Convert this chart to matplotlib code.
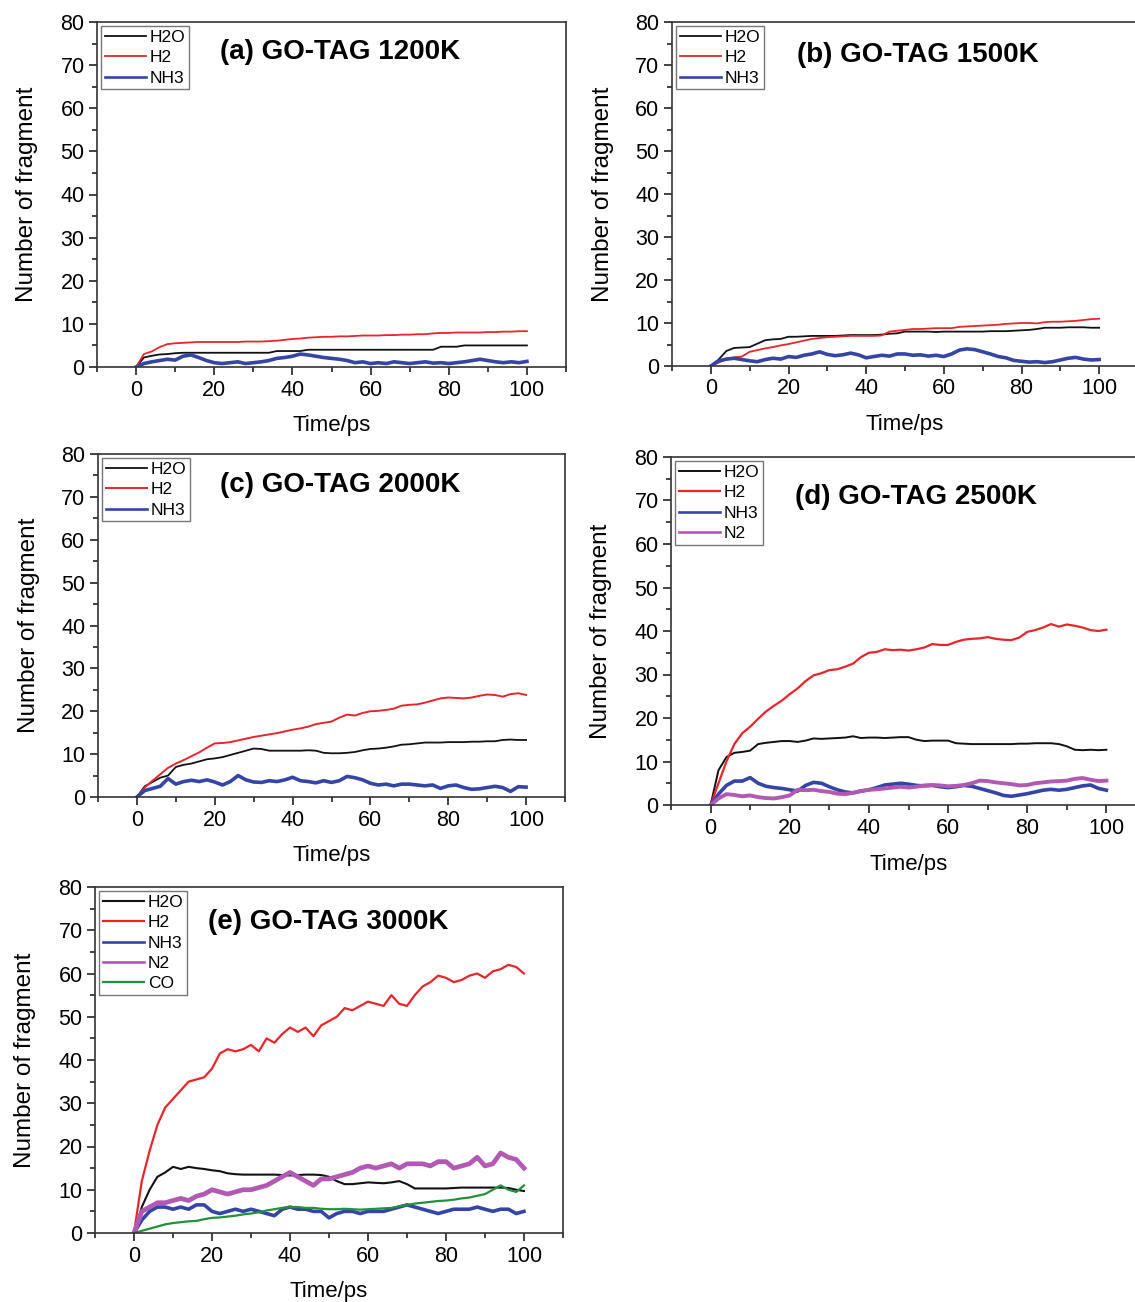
import numpy as np
import matplotlib
matplotlib.use('Agg')
import matplotlib.pyplot as plt
from matplotlib.ticker import MultipleLocator

plt.rcParams['font.family'] = ['Liberation Sans', 'DejaVu Sans']

# time grid (ps), every 2 ps
t = np.arange(0, 101, 2)

# (a) 1200K
a_h2o = [0, 2.2, 2.6, 2.9, 3.0, 3.2, 3.3, 3.3, 3.3, 3.3, 3.3, 3.3, 3.3, 3.3, 3.3, 3.3, 3.3,
         3.3, 3.7, 3.7, 3.7, 3.7, 4.0, 4.0, 4.0, 4.0, 4.0, 4.0, 4.0, 4.0, 4.0, 4.0, 4.0, 4.0,
         4.0, 4.0, 4.0, 4.0, 4.0, 4.7, 4.7, 4.7, 5.0, 5.0, 5.0, 5.0, 5.0, 5.0, 5.0, 5.0, 5.0]
a_h2 = [0, 3.0, 3.6, 4.6, 5.3, 5.5, 5.6, 5.7, 5.8, 5.8, 5.8, 5.8, 5.8, 5.8, 5.9, 5.9, 5.9,
        6.0, 6.1, 6.3, 6.5, 6.6, 6.8, 6.9, 7.0, 7.0, 7.1, 7.1, 7.2, 7.3, 7.3, 7.3, 7.4, 7.4,
        7.5, 7.5, 7.6, 7.6, 7.8, 7.9, 7.9, 8.0, 8.0, 8.0, 8.0, 8.1, 8.1, 8.2, 8.2, 8.3, 8.3]
a_nh3 = [0, 0.8, 1.2, 1.5, 1.8, 1.6, 2.5, 2.8, 2.2, 1.5, 1.0, 0.8, 1.0, 1.2, 0.8, 1.0, 1.2,
         1.5, 2.0, 2.2, 2.5, 3.0, 2.8, 2.5, 2.2, 2.0, 1.8, 1.5, 1.0, 1.2, 0.8, 1.0, 0.8, 1.2,
         1.0, 0.8, 1.0, 1.2, 0.9, 1.0, 0.8, 1.0, 1.2, 1.5, 1.8, 1.5, 1.2, 1.0, 1.2, 1.0, 1.3]

# (b) 1500K
b_h2o = [0, 1.5, 3.5, 4.2, 4.3, 4.4, 5.2, 6.0, 6.2, 6.3, 6.8, 6.8, 6.9, 7.0, 7.0, 7.0, 7.0,
         7.1, 7.2, 7.2, 7.2, 7.2, 7.3, 7.5, 7.6, 8.0, 8.0, 8.0, 8.0, 7.9, 8.0, 8.0, 8.0, 8.0,
         8.0, 8.0, 8.1, 8.1, 8.1, 8.2, 8.3, 8.4, 8.6, 8.9, 8.9, 8.9, 9.0, 9.0, 9.0, 8.9, 8.9]
b_h2 = [0, 0.8, 1.6, 2.0, 2.2, 3.3, 3.7, 4.1, 4.4, 4.8, 5.1, 5.5, 5.9, 6.3, 6.5, 6.7, 6.8,
        6.9, 7.0, 7.0, 7.0, 7.0, 7.1, 8.0, 8.2, 8.4, 8.6, 8.6, 8.7, 8.8, 8.8, 8.8, 9.1, 9.2,
        9.3, 9.4, 9.5, 9.6, 9.8, 9.9, 10.0, 10.0, 9.9, 10.2, 10.3, 10.3, 10.4, 10.5, 10.7, 10.9, 11.0]
b_nh3 = [0, 1.2, 1.6, 1.8, 1.5, 1.2, 1.0, 1.5, 1.8, 1.6, 2.2, 2.0, 2.5, 2.8, 3.3, 2.7, 2.4,
         2.6, 3.0, 2.6, 1.9, 2.2, 2.5, 2.3, 2.8, 2.8, 2.5, 2.6, 2.3, 2.5, 2.2, 2.8, 3.7, 4.0,
         3.8, 3.3, 2.8, 2.2, 1.9, 1.3, 1.1, 0.9, 1.0, 0.8, 1.0, 1.4, 1.8, 2.0, 1.6, 1.4, 1.5]

# (c) 2000K
c_h2o = [0, 2.5, 3.5, 4.5, 5.0, 7.0, 7.5, 7.8, 8.3, 8.8, 9.0, 9.3, 9.8, 10.3, 10.8, 11.3, 11.2,
         10.8, 10.8, 10.8, 10.8, 10.8, 10.9, 10.8, 10.3, 10.2, 10.2, 10.3, 10.5, 10.9, 11.2, 11.3,
         11.5, 11.8, 12.2, 12.3, 12.5, 12.7, 12.7, 12.7, 12.8, 12.8, 12.8, 12.9, 12.9, 13.0, 13.0,
         13.3, 13.4, 13.3, 13.3]
c_h2 = [0, 2.2, 3.8, 5.3, 6.8, 7.8, 8.6, 9.5, 10.4, 11.5, 12.5, 12.6, 12.8, 13.2, 13.6, 14.0,
        14.3, 14.6, 14.9, 15.3, 15.7, 16.0, 16.4, 17.0, 17.3, 17.6, 18.5, 19.2, 19.0, 19.6, 20.0,
        20.1, 20.3, 20.6, 21.3, 21.5, 21.6, 22.0, 22.5, 23.0, 23.2, 23.1, 23.0, 23.2, 23.6, 23.9,
        23.8, 23.4, 24.0, 24.2, 23.8]
c_nh3 = [0, 1.5, 2.0, 2.5, 4.3, 3.0, 3.6, 3.9, 3.6, 4.0, 3.5, 2.8, 3.6, 5.0, 4.0, 3.5, 3.4,
         3.8, 3.6, 4.0, 4.6, 3.8, 3.6, 3.3, 3.8, 3.4, 3.8, 4.8, 4.5, 4.0, 3.2, 2.8, 3.0, 2.6,
         3.0, 3.0, 2.8, 2.6, 2.8, 2.0, 2.6, 2.8, 2.2, 1.8, 1.9, 2.2, 2.5, 2.2, 1.3, 2.4, 2.3]

# (d) 2500K
d_h2o = [0, 8.0, 11.0, 12.0, 12.2, 12.5, 14.0, 14.3, 14.5, 14.7, 14.7, 14.5, 14.8, 15.3, 15.2,
         15.3, 15.4, 15.5, 15.8, 15.4, 15.5, 15.5, 15.4, 15.5, 15.6, 15.6, 15.0, 14.7, 14.8, 14.8,
         14.8, 14.2, 14.1, 14.0, 14.0, 14.0, 14.0, 14.0, 14.0, 14.1, 14.1, 14.2, 14.2, 14.2, 14.0,
         13.5, 12.7, 12.6, 12.7, 12.6, 12.7]
d_h2 = [0, 5.0, 10.0, 14.0, 16.5, 18.0, 19.8, 21.5, 22.8, 24.0, 25.5, 26.8, 28.5, 29.8, 30.3,
        31.0, 31.2, 31.8, 32.5, 34.0, 35.0, 35.2, 35.8, 35.6, 35.7, 35.5, 35.8, 36.2, 37.0, 36.8,
        36.8, 37.5, 38.0, 38.2, 38.3, 38.6, 38.2, 38.0, 37.9, 38.5, 39.8, 40.2, 40.8, 41.6, 41.0,
        41.5, 41.2, 40.8, 40.2, 40.0, 40.3]
d_nh3 = [0, 2.5, 4.5, 5.5, 5.5, 6.3, 5.0, 4.3, 4.0, 3.8, 3.5, 3.2, 4.5, 5.2, 5.0, 4.2, 3.5,
         3.0, 2.8, 3.2, 3.5, 4.0, 4.6, 4.8, 5.0, 4.8, 4.5, 4.4, 4.5, 4.2, 4.0, 4.2, 4.5, 4.3,
         3.8, 3.3, 2.8, 2.2, 2.0, 2.3, 2.6, 3.0, 3.4, 3.6, 3.4, 3.6, 4.0, 4.4, 4.6, 3.8, 3.4]
d_n2 = [0, 1.5, 2.5, 2.3, 2.0, 2.2, 1.8, 1.6, 1.5, 1.8, 2.2, 3.5, 3.4, 3.5, 3.2, 3.0, 2.6,
        2.5, 2.8, 3.2, 3.5, 3.6, 3.8, 4.0, 4.2, 4.0, 4.2, 4.5, 4.6, 4.5, 4.3, 4.4, 4.6, 5.0,
        5.6, 5.5, 5.2, 5.0, 4.8, 4.5, 4.6, 5.0, 5.2, 5.4, 5.5, 5.6, 6.0, 6.2, 5.8, 5.5, 5.6]

# (e) 3000K
e_h2o = [0, 6, 10, 13, 14, 15.3, 14.8, 15.3, 15.0, 14.8, 14.5, 14.3, 13.8, 13.6, 13.5, 13.5,
         13.5, 13.5, 13.5, 13.4, 13.3, 13.4, 13.5, 13.5, 13.4, 13.0, 12.0, 11.3, 11.3, 11.5, 11.7,
         11.6, 11.5, 11.7, 12.0, 11.3, 10.3, 10.3, 10.3, 10.3, 10.3, 10.4, 10.5, 10.5, 10.5, 10.5,
         10.5, 10.5, 10.4, 10.0, 9.7]
e_h2 = [0, 12, 19, 25, 29, 31, 33, 35, 35.5, 36, 38, 41.5, 42.5, 42, 42.5, 43.5, 42, 45, 44,
        46, 47.5, 46.5, 47.5, 45.5, 48, 49, 50, 52, 51.5, 52.5, 53.5, 53, 52.5, 55, 53, 52.5,
        55, 57, 58, 59.5, 59, 58, 58.5, 59.5, 60, 59, 60.5, 61, 62, 61.5, 60]
e_nh3 = [0, 3, 5, 6, 6, 5.5, 6, 5.5, 6.5, 6.5, 5, 4.5, 5, 5.5, 5, 5.5, 5, 4.5, 4, 5.5, 6,
         5.5, 5.5, 5, 5, 3.5, 4.5, 5, 5, 4.5, 5, 5, 5, 5.5, 6, 6.5, 6, 5.5, 5, 4.5, 5, 5.5,
         5.5, 5.5, 6, 5.5, 5, 5.5, 5.5, 4.5, 5]
e_n2 = [0, 5, 6, 7, 7, 7.5, 8, 7.5, 8.5, 9, 10, 9.5, 9, 9.5, 10, 10, 10.5, 11, 12, 13, 14,
        13, 12, 11, 12.5, 12.5, 13, 13.5, 14, 15, 15.5, 15, 15.5, 16, 15, 16, 16, 16, 15.5,
        16.5, 16.5, 15, 15.5, 16, 17.5, 15.5, 16, 18.5, 17.5, 17, 15]
e_co = [0, 0.5, 1, 1.5, 2, 2.3, 2.5, 2.7, 2.8, 3.2, 3.5, 3.6, 3.8, 4.0, 4.3, 4.5, 4.8, 5.2,
        5.5, 5.8, 6, 6, 5.8, 5.8, 5.6, 5.5, 5.5, 5.6, 5.5, 5.4, 5.5, 5.6, 5.7, 5.8, 6.2, 6.5,
        6.8, 7.0, 7.2, 7.4, 7.5, 7.7, 8.0, 8.2, 8.6, 9.0, 10, 11, 10, 9.5, 11]

BLACK = '#111111'
RED = '#e8252a'
BLUE = '#3445a6'
MAGENTA = '#b259b4'
GREEN = '#23913a'

W, H = 1135, 1302
fig = plt.figure(figsize=(W / 100, H / 100), dpi=100)


def px_axes(x0, x1, ytop, ybot):
    # axes rectangle given in picture pixels
    return fig.add_axes([x0 / W, (H - ybot) / H, (x1 - x0) / W, (ybot - ytop) / H])


def style(ax, title, tx, ty):
    ax.set_xlim(-10, 110)
    ax.set_ylim(0, 80)
    ax.xaxis.set_major_locator(MultipleLocator(20))
    ax.xaxis.set_minor_locator(MultipleLocator(10))
    ax.yaxis.set_major_locator(MultipleLocator(10))
    ax.yaxis.set_minor_locator(MultipleLocator(5))
    ax.tick_params(which='both', direction='out', top=False, right=False,
                   labelsize=15.5, width=1.2, color='#222222')
    ax.tick_params(which='major', length=6, pad=3)
    ax.tick_params(which='minor', length=3.5)
    for sp in ax.spines.values():
        sp.set_linewidth(1.2)
        sp.set_color('#333333')
    ax.set_xlabel('Time/ps', fontsize=16)
    ax.set_ylabel('Number of fragment', fontsize=17.5)
    ax.yaxis.set_label_coords(-0.125, 0.5)
    ax.xaxis.set_label_coords(0.5, -0.14)
    ax.text(tx, ty, title, transform=ax.transAxes, fontsize=20, fontweight='bold',
            ha='left', va='center')
    leg = ax.legend(loc='upper left', fontsize=12.5, frameon=True, fancybox=False,
                    borderaxespad=0.25, borderpad=0.2, handlelength=2.4,
                    handletextpad=0.2, labelspacing=0.3)
    leg.get_frame().set_edgecolor('#555555')
    leg.get_frame().set_linewidth(1.0)
    for h in leg.get_lines():
        h.set_linewidth(min(h.get_linewidth(), 1.9))


def draw(ax, series):
    for name, vals, color, lw in series:
        ax.plot(t, vals, color=color, lw=lw, label=name)


ax = px_axes(97, 566, 22, 367)
draw(ax, [('H2O', a_h2o, BLACK, 1.3), ('H2', a_h2, RED, 1.3), ('NH3', a_nh3, BLUE, 2.6)])
style(ax, '(a) GO-TAG 1200K', 0.262, 0.913)

ax = px_axes(672, 1138, 22, 366)
draw(ax, [('H2O', b_h2o, BLACK, 1.3), ('H2', b_h2, RED, 1.3), ('NH3', b_nh3, BLUE, 2.6)])
style(ax, '(b) GO-TAG 1500K', 0.268, 0.904)

ax = px_axes(98, 565, 454, 797)
draw(ax, [('H2O', c_h2o, BLACK, 1.3), ('H2', c_h2, RED, 1.4), ('NH3', c_nh3, BLUE, 2.6)])
style(ax, '(c) GO-TAG 2000K', 0.261, 0.91)

ax = px_axes(671, 1146, 457, 805)
draw(ax, [('H2O', d_h2o, BLACK, 1.4), ('H2', d_h2, RED, 1.6), ('NH3', d_nh3, BLUE, 2.6),
          ('N2', d_n2, MAGENTA, 2.8)])
style(ax, '(d) GO-TAG 2500K', 0.261, 0.885)

ax = px_axes(95, 563, 887, 1233)
draw(ax, [('H2O', e_h2o, BLACK, 1.5), ('H2', e_h2, RED, 1.6), ('NH3', e_nh3, BLUE, 2.6),
          ('N2', e_n2, MAGENTA, 3.4), ('CO', e_co, GREEN, 1.6)])
style(ax, '(e) GO-TAG 3000K', 0.241, 0.899)

fig.savefig('out.png', dpi=100)
